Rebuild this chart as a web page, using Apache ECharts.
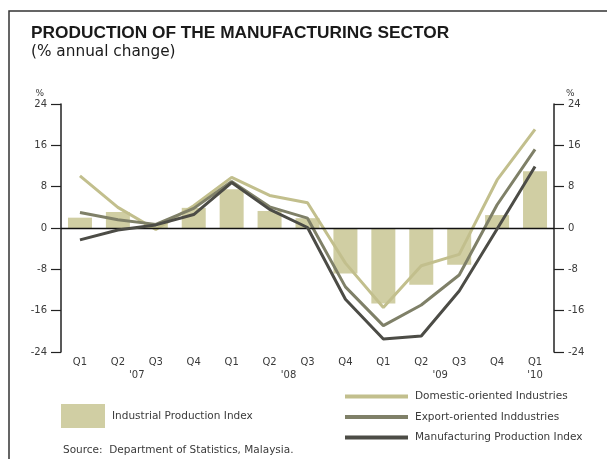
<!DOCTYPE html>
<html>
<head>
<meta charset="utf-8">
<script src="https://cdn.jsdelivr.net/npm/echarts@6/dist/echarts.min.js"></script>
<style>
  html, body { margin: 0; padding: 0; background: #fff; }
  #chart { width: 607px; height: 459px; }
</style>
</head>
<body>
<div id="chart"></div>
<script>
// Quarterly categories, Q1 2007 to Q1 2010
const quarters = ['Q1', 'Q2', 'Q3', 'Q4', 'Q1', 'Q2', 'Q3', 'Q4', 'Q1', 'Q2', 'Q3', 'Q4', 'Q1'];

// Year captions on a half-quarter grid (27 slots, boundaryGap off)
const yearTicks = ['', '', '', '', "'07", '', '', '', '', '', '', '', "'08", '', '', '', '', '', '', '', "'09", '', '', '', '', "'10", ''];

// % annual change
const industrialProductionIndex = [2.0, 3.1, 0.9, 3.9, 7.5, 3.3, 1.9, -8.8, -14.6, -11.0, -7.1, 2.5, 11.0];
const domesticOriented = [10.1, 4.0, -0.3, 4.3, 9.8, 6.3, 4.9, -6.8, -15.4, -7.3, -5.1, 9.3, 19.1];
const exportOriented = [3.0, 1.6, 0.7, 3.8, 9.0, 4.1, 1.9, -11.4, -18.9, -14.9, -9.1, 4.5, 15.2];
const manufacturingIndex = [-2.3, -0.4, 0.6, 2.6, 8.8, 3.6, 0.1, -13.8, -21.5, -20.9, -12.2, -0.2, 11.9];

const yMin = -24, yMax = 24, yStep = 8;

const FONT = 'DejaVu Sans';
const TEXT = '#3a3a3a';
const C_BAR = '#d0cea3';
const C_DOM = '#c2bf8d';
const C_EXP = '#7f8068';
const C_MFG = '#4c4c46';

const chart = echarts.init(document.getElementById('chart'), null, { renderer: 'canvas' });

function valueAxis(side) {
  const left = side === 'left';
  return {
    type: 'value',
    position: side,
    min: yMin, max: yMax, interval: yStep,
    name: '%',
    nameLocation: 'end',
    nameGap: 6,
    nameTextStyle: {
      fontFamily: FONT, fontSize: 9, color: TEXT,
      align: left ? 'right' : 'left',
      padding: left ? [0, 17, 0, 0] : [0, 0, 0, 12]
    },
    axisLine: { show: true, onZero: false, lineStyle: { color: '#222', width: 1.5 } },
    axisTick: { show: true, inside: false, length: 10, lineStyle: { color: '#222', width: 1.2 } },
    axisLabel: { margin: 14, fontFamily: FONT, fontSize: 10, color: TEXT },
    splitLine: { show: false }
  };
}

chart.setOption({
  animation: false,
  backgroundColor: '#fff',
  title: [
    {
      text: 'PRODUCTION OF THE MANUFACTURING SECTOR',
      left: 31, top: 25, padding: 0,
      textStyle: { fontFamily: 'Liberation Sans', fontWeight: 'bold', fontSize: 17.3, color: '#1a1a1a' }
    },
    {
      text: '(% annual change)',
      left: 31, top: 45, padding: 0,
      textStyle: { fontFamily: FONT, fontWeight: 'normal', fontSize: 15.3, color: '#1a1a1a' }
    },
    {
      text: 'Source:  Department of Statistics, Malaysia.',
      left: 63, top: 445, padding: 0,
      textStyle: { fontFamily: FONT, fontWeight: 'normal', fontSize: 10.5, color: TEXT }
    }
  ],
  graphic: [
    {
      type: 'polyline',
      shape: { points: [[9, 459], [9, 11], [607, 11]] },
      style: { stroke: '#333', lineWidth: 1.5, fill: null },
      silent: true
    }
  ],
  legend: [
    {
      data: [{ name: 'Industrial Production Index', icon: 'rect' }],
      left: 61, top: 404,
      itemWidth: 44, itemHeight: 24,
      padding: 0,
      textStyle: { fontFamily: FONT, fontSize: 10.5, color: TEXT, padding: [0, 0, 0, 2] }
    },
    {
      data: [
        { name: 'Domestic-oriented Industries', icon: 'rect' },
        { name: 'Export-oriented Inddustries', icon: 'rect' },
        { name: 'Manufacturing Production Index', icon: 'rect' }
      ],
      orient: 'vertical',
      left: 345, top: 391,
      itemWidth: 63, itemHeight: 4,
      itemGap: 9.5,
      padding: 0,
      textStyle: { fontFamily: FONT, fontSize: 10.5, color: TEXT, padding: [0, 0, 0, 2] }
    }
  ],
  grid: { left: 61, right: 53, top: 104, bottom: 107, containLabel: false },
  xAxis: [
    {
      type: 'category',
      data: quarters,
      boundaryGap: true,
      position: 'bottom',
      axisLine: { show: false, onZero: false },
      axisTick: { show: false },
      axisLabel: { interval: 0, margin: 4, fontFamily: FONT, fontSize: 10, color: TEXT, lineHeight: 12 }
    },
    {
      type: 'category',
      data: yearTicks,
      boundaryGap: false,
      position: 'bottom',
      axisLine: { show: false, onZero: false },
      axisTick: { show: false },
      axisLabel: { interval: 0, margin: 18, fontFamily: FONT, fontSize: 10, color: TEXT }
    }
  ],
  yAxis: [valueAxis('left'), valueAxis('right')],
  series: [
    {
      name: 'Industrial Production Index',
      type: 'bar',
      data: industrialProductionIndex,
      barWidth: 24,
      itemStyle: { color: C_BAR },
      z: 1,
      markLine: {
        silent: true,
        symbol: ['none', 'none'],
        label: { show: false },
        lineStyle: { color: '#111', width: 1.4, type: 'solid' },
        data: [{ yAxis: 0 }]
      }
    },
    {
      name: 'Domestic-oriented Industries',
      type: 'line',
      data: domesticOriented,
      showSymbol: false, symbol: 'none',
      lineStyle: { color: C_DOM, width: 3 },
      itemStyle: { color: C_DOM },
      z: 3
    },
    {
      name: 'Export-oriented Inddustries',
      type: 'line',
      data: exportOriented,
      showSymbol: false, symbol: 'none',
      lineStyle: { color: C_EXP, width: 3 },
      itemStyle: { color: C_EXP },
      z: 4
    },
    {
      name: 'Manufacturing Production Index',
      type: 'line',
      data: manufacturingIndex,
      showSymbol: false, symbol: 'none',
      lineStyle: { color: C_MFG, width: 3 },
      itemStyle: { color: C_MFG },
      z: 5
    }
  ]
});
</script>
</body>
</html>
